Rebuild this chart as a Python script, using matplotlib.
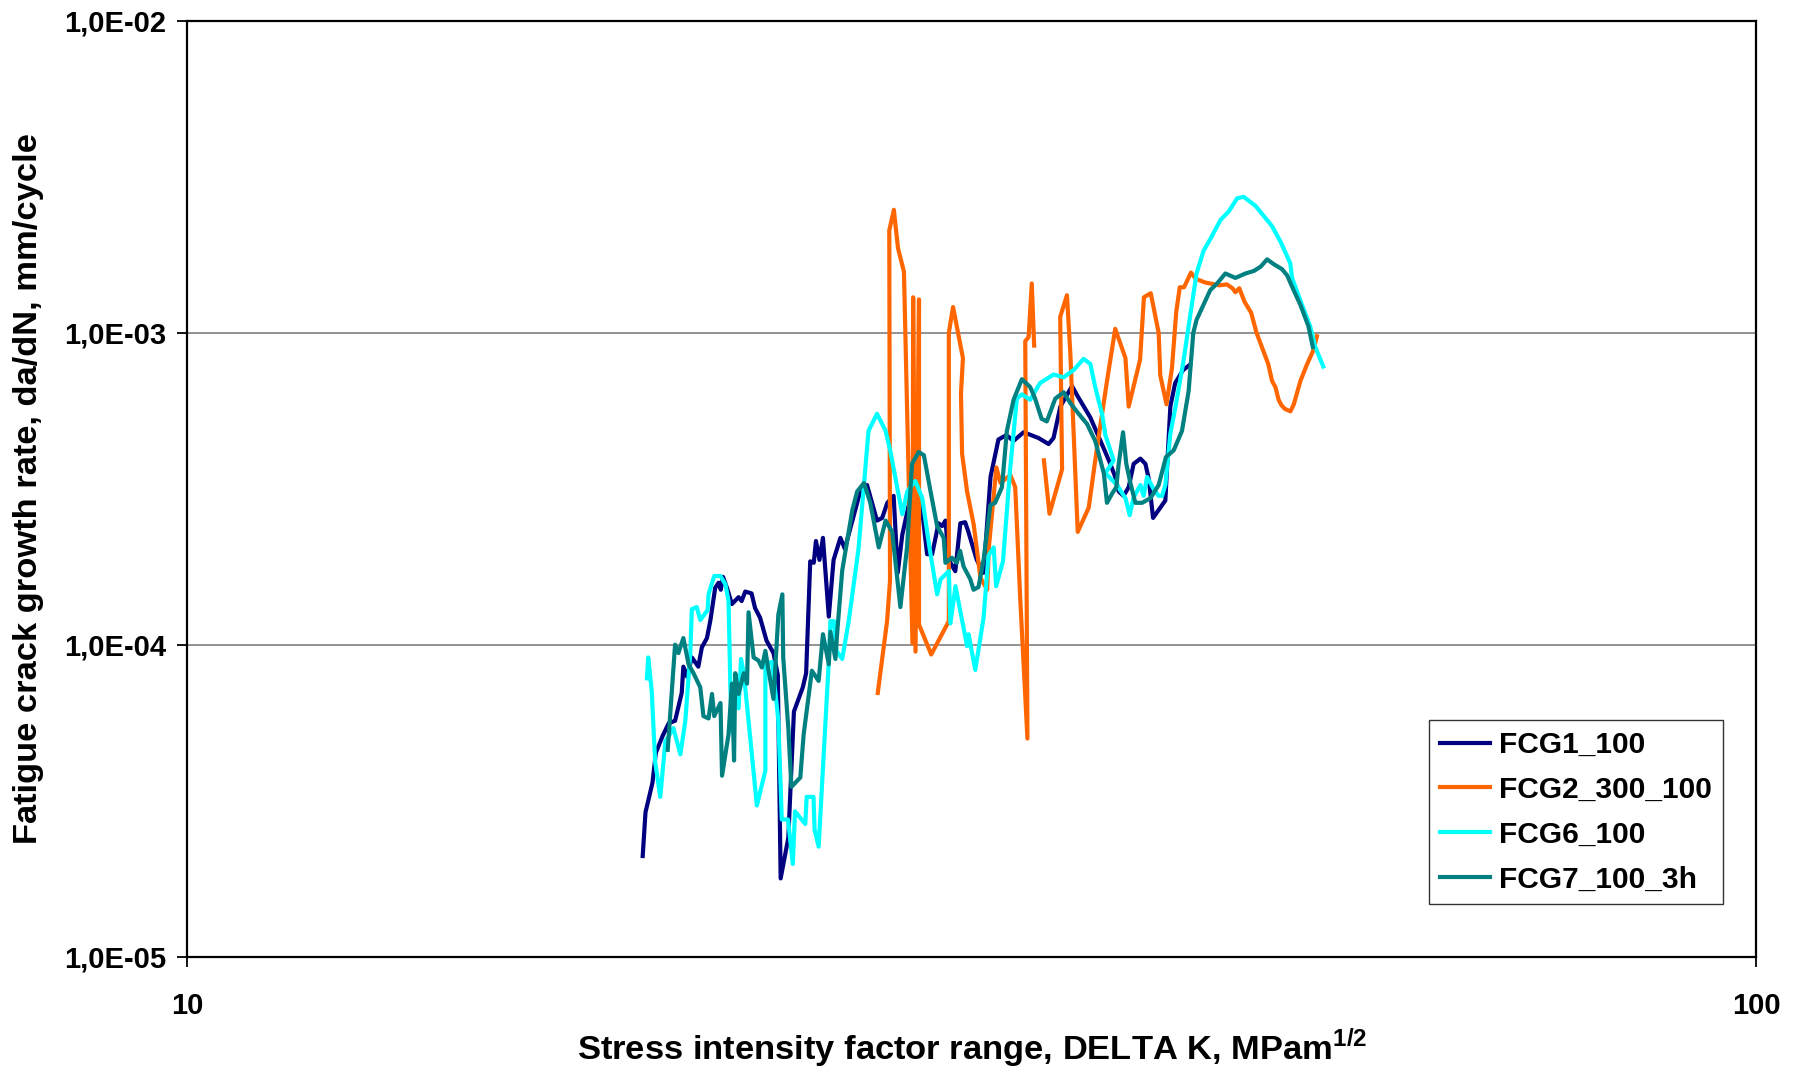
"""Fatigue crack growth rate vs. stress intensity factor range (log-log),
four specimens, redrawn from the digitised test curves."""

import matplotlib

matplotlib.use("Agg")
import matplotlib.pyplot as plt  # noqa: E402
import numpy as np  # noqa: E402
from matplotlib.ticker import FixedLocator, FuncFormatter, NullLocator  # noqa: E402

# (delta K [MPa m^1/2], da/dN [mm/cycle])
FCG1_100 = [
    (19.52, 2.1e-5), (19.6, 2.9e-5), (19.8, 3.6e-5), (19.9, 4.5e-5), (20.1, 5.1e-5),
    (20.28, 5.6e-5), (20.47, 5.7e-5), (20.67, 7.0e-5), (20.72, 8.5e-5), (20.83, 7.9e-5),
    (20.98, 9.1e-5), (21.18, 8.5e-5), (21.29, 9.8e-5), (21.45, 1.05e-4), (21.56, 1.2e-4),
    (21.71, 1.52e-4), (21.82, 1.58e-4), (21.89, 1.5e-4), (21.96, 1.65e-4), (22.09, 1.52e-4),
    (22.25, 1.35e-4), (22.47, 1.42e-4), (22.57, 1.38e-4), (22.69, 1.48e-4), (22.9, 1.46e-4),
    (23.02, 1.31e-4), (23.19, 1.22e-4), (23.41, 1.03e-4), (23.65, 9.4e-5), (23.8, 8.0e-5),
    (23.9, 1.78e-5), (24.17, 2.4e-5), (24.37, 6.1e-5), (24.69, 7.3e-5), (24.81, 8.1e-5),
    (24.96, 1.85e-4), (25.09, 1.83e-4), (25.17, 2.15e-4), (25.3, 1.87e-4), (25.43, 2.2e-4),
    (25.65, 1.23e-4), (25.83, 1.87e-4), (26.09, 2.2e-4), (26.26, 2.03e-4), (26.86, 3.1e-4),
    (27.13, 3.25e-4), (27.53, 2.5e-4), (27.74, 2.55e-4), (27.95, 2.85e-4), (28.21, 3.0e-4),
    (28.38, 1.7e-4), (28.57, 2.25e-4), (28.84, 2.8e-4), (29.12, 3.1e-4), (29.4, 2.75e-4),
    (29.63, 1.95e-4), (29.85, 1.95e-4), (30.13, 2.45e-4), (30.29, 2.4e-4), (30.44, 2.5e-4),
    (30.59, 1.87e-4), (30.88, 1.72e-4), (31.11, 2.45e-4), (31.33, 2.47e-4), (31.48, 2.3e-4),
    (31.87, 1.87e-4), (32.19, 1.7e-4), (32.52, 3.45e-4), (32.9, 4.55e-4), (33.29, 4.7e-4),
    (33.63, 4.5e-4), (34.14, 4.8e-4), (34.89, 4.6e-4), (35.41, 4.4e-4), (35.67, 4.6e-4),
    (36.03, 5.8e-4), (36.65, 6.75e-4), (36.93, 6.3e-4), (37.65, 5.35e-4), (38.29, 4.4e-4),
    (38.77, 3.8e-4), (39.05, 3.45e-4), (39.25, 3.1e-4), (39.53, 3.0e-4), (39.83, 3.2e-4),
    (40.12, 3.8e-4), (40.52, 3.95e-4), (40.82, 3.8e-4), (41.02, 3.4e-4), (41.28, 2.55e-4),
    (42.03, 2.9e-4), (42.34, 5.8e-4), (42.64, 6.9e-4), (43.14, 7.6e-4), (43.57, 7.9e-4),
]

# gap between the two recorded stretches of this specimen
FCG2_300_100 = [
    (27.56, 7.0e-5), (27.94, 1.19e-4), (28.06, 1.6e-4), (28.03, 2.13e-3), (28.22, 2.48e-3),
    (28.39, 1.87e-3), (28.64, 1.57e-3), (29.0, 1.01e-4), (29.03, 1.3e-3), (29.13, 9.5e-5),
    (29.28, 1.28e-3), (29.28, 1.16e-4), (29.81, 9.3e-5), (30.59, 1.19e-4), (30.59, 1.0e-3),
    (30.78, 1.21e-3), (31.23, 8.3e-4), (31.14, 6.4e-4), (31.19, 4.1e-4), (31.42, 3.1e-4),
    (31.73, 2.42e-4), (32.04, 1.64e-4), (32.36, 1.5e-4), (32.44, 2.05e-4), (32.8, 3.7e-4),
    (33.0, 3.3e-4), (33.48, 3.5e-4), (33.72, 3.2e-4), (33.97, 1.4e-4), (34.33, 5.0e-5),
    (34.22, 9.4e-4), (34.39, 9.7e-4), (34.55, 1.44e-3), (34.67, 9.1e-4),
    (np.nan, np.nan),
    (35.17, 3.9e-4), (35.46, 2.63e-4), (36.12, 3.65e-4), (36.02, 1.125e-3), (36.38, 1.32e-3),
    (36.56, 8.6e-4), (36.96, 2.3e-4), (37.56, 2.75e-4), (38.0, 4.2e-4), (38.58, 7.0e-4),
    (39.05, 1.03e-3), (39.64, 8.3e-4), (39.83, 5.8e-4), (40.5, 8.2e-4), (40.73, 1.3e-3),
    (41.14, 1.34e-3), (41.62, 1.0e-3), (41.72, 7.3e-4), (42.1, 5.9e-4), (42.44, 7.7e-4),
    (42.71, 1.17e-3), (42.93, 1.4e-3), (43.2, 1.4e-3), (43.64, 1.56e-3), (43.95, 1.49e-3),
    (44.56, 1.45e-3), (45.5, 1.42e-3), (46.0, 1.43e-3), (46.38, 1.39e-3), (46.58, 1.35e-3),
    (46.85, 1.39e-3), (47.2, 1.26e-3), (47.67, 1.16e-3), (48.05, 1.0e-3), (48.51, 8.8e-4),
    (48.88, 7.95e-4), (49.16, 7.0e-4), (49.4, 6.7e-4), (49.63, 6.1e-4), (49.85, 5.85e-4),
    (50.1, 5.7e-4), (50.5, 5.6e-4), (50.75, 5.9e-4), (51.24, 7.0e-4), (51.73, 7.9e-4),
    (52.23, 8.8e-4), (52.5, 9.75e-4),
]

FCG6_100 = [
    (19.64, 7.8e-5), (19.68, 9.1e-5), (19.78, 7.1e-5), (19.88, 4.2e-5), (20.03, 3.25e-5),
    (20.18, 4.9e-5), (20.33, 5.2e-5), (20.42, 5.4e-5), (20.63, 4.45e-5), (20.78, 5.7e-5),
    (20.93, 9.3e-5), (20.98, 1.3e-4), (21.13, 1.32e-4), (21.24, 1.2e-4), (21.47, 1.29e-4),
    (21.5, 1.45e-4), (21.68, 1.66e-4), (21.88, 1.66e-4), (22.04, 1.56e-4), (22.14, 1.38e-4),
    (22.2, 7.3e-5), (22.25, 5.25e-5), (22.36, 7.5e-5), (22.47, 6.25e-5), (22.55, 9.0e-5),
    (22.64, 8.1e-5), (22.8, 5.7e-5), (23.08, 3.05e-5), (23.37, 3.95e-5), (23.37, 8.65e-5),
    (23.6, 8.8e-5), (23.71, 7.1e-5), (23.82, 5.7e-5), (23.94, 2.75e-5), (24.16, 2.75e-5),
    (24.33, 1.98e-5), (24.41, 2.92e-5), (24.78, 2.66e-5), (24.83, 3.25e-5), (25.08, 3.25e-5),
    (25.12, 2.55e-5), (25.27, 2.25e-5), (25.65, 8.85e-5), (25.71, 1.19e-4), (25.84, 1.19e-4),
    (25.94, 9.55e-5), (26.16, 9.0e-5), (26.41, 1.19e-4), (26.79, 2.02e-4), (27.19, 4.85e-4),
    (27.53, 5.5e-4), (27.88, 4.85e-4), (28.08, 4.15e-4), (28.57, 2.62e-4), (28.78, 3.1e-4),
    (29.12, 3.35e-4), (29.42, 2.95e-4), (29.71, 2.1e-4), (30.07, 1.45e-4), (30.22, 1.62e-4),
    (30.59, 1.72e-4), (30.66, 1.17e-4), (30.89, 1.54e-4), (31.42, 9.9e-5), (31.49, 1.08e-4),
    (31.8, 8.3e-5), (32.19, 1.22e-4), (32.42, 1.93e-4), (32.67, 2.05e-4), (32.79, 1.54e-4),
    (33.12, 1.85e-4), (33.46, 3.6e-4), (33.8, 6.15e-4), (34.05, 6.35e-4), (34.47, 6.1e-4),
    (34.97, 6.9e-4), (35.67, 7.35e-4), (36.2, 7.2e-4), (36.74, 7.6e-4), (37.28, 8.25e-4),
    (37.65, 7.95e-4), (37.92, 6.7e-4), (38.3, 5.5e-4), (38.49, 4.7e-4), (38.96, 3.9e-4),
    (38.49, 3.55e-4), (39.15, 3.25e-4), (39.64, 2.95e-4), (39.89, 2.6e-4), (40.12, 2.97e-4),
    (40.52, 3.25e-4), (40.71, 3.0e-4), (40.92, 3.45e-4), (41.32, 3.15e-4), (41.62, 3.0e-4),
    (41.83, 3.0e-4), (42.03, 3.25e-4), (42.34, 4.75e-4), (42.65, 5.75e-4), (43.17, 8.15e-4),
    (43.49, 1.05e-3), (44.0, 1.55e-3), (44.45, 1.83e-3), (44.9, 2.0e-3), (45.57, 2.3e-3),
    (46.13, 2.45e-3), (46.7, 2.7e-3), (47.15, 2.73e-3), (47.99, 2.55e-3), (48.46, 2.4e-3),
    (49.15, 2.2e-3), (49.77, 1.96e-3), (50.49, 1.67e-3), (50.62, 1.5e-3), (51.24, 1.27e-3),
    (51.98, 1.05e-3), (52.38, 9.0e-4), (52.99, 7.8e-4),
]

FCG7_100_3H = [
    (20.25, 4.6e-5), (20.47, 1.0e-4), (20.57, 9.4e-5), (20.72, 1.05e-4), (20.88, 8.65e-5),
    (21.03, 8.1e-5), (21.24, 7.3e-5), (21.34, 5.9e-5), (21.5, 5.8e-5), (21.61, 6.95e-5),
    (21.68, 5.9e-5), (21.88, 6.5e-5), (21.93, 3.8e-5), (22.14, 5.15e-5), (22.25, 7.5e-5),
    (22.32, 4.25e-5), (22.36, 8.1e-5), (22.47, 6.95e-5), (22.64, 8.1e-5), (22.75, 7.5e-5),
    (22.8, 1.27e-4), (22.97, 9.1e-5), (23.13, 8.9e-5), (23.25, 8.45e-5), (23.37, 9.55e-5),
    (23.48, 8.25e-5), (23.65, 6.7e-5), (23.82, 1.25e-4), (23.96, 1.45e-4), (23.99, 9.1e-5),
    (24.17, 5.4e-5), (24.28, 3.5e-5), (24.6, 3.75e-5), (24.72, 5.15e-5), (25.02, 8.25e-5),
    (25.27, 7.65e-5), (25.43, 1.08e-4), (25.65, 8.65e-5), (25.71, 1.1e-4), (25.9, 9.0e-5),
    (25.97, 1.1e-4), (26.16, 1.73e-4), (26.55, 2.7e-4), (26.74, 3.1e-4), (27.01, 3.3e-4),
    (27.26, 2.85e-4), (27.6, 2.05e-4), (27.88, 2.5e-4), (28.15, 2.3e-4), (28.49, 1.32e-4),
    (28.77, 2.05e-4), (28.98, 3.8e-4), (29.27, 4.15e-4), (29.49, 4.05e-4), (29.78, 3.1e-4),
    (30.07, 2.4e-4), (30.36, 2.2e-4), (30.44, 1.83e-4), (30.73, 1.9e-4), (30.95, 1.83e-4),
    (31.1, 2.0e-4), (31.26, 1.78e-4), (31.57, 1.62e-4), (31.72, 1.5e-4), (31.95, 1.53e-4),
    (32.19, 1.87e-4), (32.51, 2.8e-4), (32.74, 2.85e-4), (33.07, 3.2e-4), (33.31, 4.85e-4),
    (33.64, 6.1e-4), (34.05, 7.1e-4), (34.47, 6.7e-4), (34.72, 6.15e-4), (35.05, 5.3e-4),
    (35.32, 5.2e-4), (35.76, 6.15e-4), (36.2, 6.45e-4), (36.56, 5.95e-4), (37.01, 5.5e-4),
    (37.47, 5.1e-4), (37.92, 4.5e-4), (38.4, 3.55e-4), (38.58, 2.85e-4), (38.87, 3.05e-4),
    (39.11, 3.2e-4), (39.25, 3.8e-4), (39.5, 4.8e-4), (39.69, 3.8e-4), (39.93, 3.3e-4),
    (40.22, 2.85e-4), (40.62, 2.85e-4), (41.12, 2.95e-4), (41.62, 3.25e-4), (42.07, 4.0e-4),
    (42.55, 4.2e-4), (43.07, 4.85e-4), (43.49, 6.5e-4), (43.79, 1.0e-3), (44.0, 1.1e-3),
    (44.45, 1.23e-3), (44.89, 1.37e-3), (45.35, 1.44e-3), (45.9, 1.55e-3), (46.58, 1.5e-3),
    (47.28, 1.55e-3), (47.87, 1.58e-3), (48.34, 1.63e-3), (48.8, 1.72e-3), (49.28, 1.66e-3),
    (49.88, 1.6e-3), (50.25, 1.53e-3), (50.74, 1.37e-3), (51.24, 1.23e-3), (51.85, 1.05e-3),
    (52.19, 9.0e-4),
]

SERIES = [
    ("FCG1_100", FCG1_100, "#000080"),
    ("FCG2_300_100", FCG2_300_100, "#FF6600"),
    ("FCG6_100", FCG6_100, "#00FFFF"),
    ("FCG7_100_3h", FCG7_100_3H, "#008080"),
]

X_TICKS = [10, 100]
Y_TICKS = [1e-5, 1e-4, 1e-3, 1e-2]
X_LABEL = r"Stress intensity factor range, DELTA K, MPam$^{\mathbf{1/2}}$"
Y_LABEL = "Fatigue crack growth rate, da/dN, mm/cycle"


def main() -> int:
    plt.rcParams["font.family"] = ["Liberation Sans", "DejaVu Sans"]
    plt.rcParams["font.weight"] = "bold"
    plt.rcParams["mathtext.fontset"] = "custom"
    plt.rcParams["mathtext.rm"] = "Liberation Sans:bold"
    plt.rcParams["mathtext.bf"] = "Liberation Sans:bold"

    fig = plt.figure(figsize=(17.99, 10.71), dpi=100)
    ax = fig.add_axes([0.1039, 0.1069, 0.8722, 0.8735])

    for label, pts, color in SERIES:
        dk, rate = np.array(pts, dtype=float).T
        ax.plot(dk, rate, color=color, lw=3.0, label=label)

    ax.set_xscale("log")
    ax.set_yscale("log")
    ax.set_xlim(X_TICKS[0], X_TICKS[-1])
    ax.set_ylim(Y_TICKS[0], Y_TICKS[-1])
    ax.xaxis.set_major_locator(FixedLocator(X_TICKS))
    ax.yaxis.set_major_locator(FixedLocator(Y_TICKS))
    ax.xaxis.set_minor_locator(NullLocator())
    ax.yaxis.set_minor_locator(NullLocator())
    ax.xaxis.set_major_formatter(FuncFormatter(lambda v, _: f"{v:.0f}"))
    ax.yaxis.set_major_formatter(FuncFormatter(lambda v, _: ("%.1E" % v).replace(".", ",")))

    ax.yaxis.grid(True, color="#808080", lw=1.2)
    ax.set_axisbelow(True)
    for sp in ax.spines.values():
        sp.set_color("black")
        sp.set_linewidth(1.6)
    ax.tick_params(axis="both", direction="out", length=7, width=1.3, labelsize=21)
    ax.tick_params(axis="x", pad=18.5)
    ax.tick_params(axis="y", pad=8)

    fig.text(0.0161, 0.5437, Y_LABEL, rotation=90, ha="center", va="center",
             fontsize=24.8, fontweight="bold")
    fig.text(0.5403, 0.0215, X_LABEL, ha="center", va="center",
             fontsize=24.8, fontweight="bold")

    leg = ax.legend(loc="lower right", bbox_to_anchor=(0.979, 0.056), borderaxespad=0,
                    fontsize=21.5, fancybox=False, framealpha=1, edgecolor="#333333",
                    handlelength=1.7, handletextpad=0.3, labelspacing=0.56, borderpad=0.36)
    leg.get_frame().set_linewidth(1.0)

    fig.savefig("out.png", dpi=100)
    plt.close(fig)
    return 0


if __name__ == "__main__":
    raise SystemExit(main())
